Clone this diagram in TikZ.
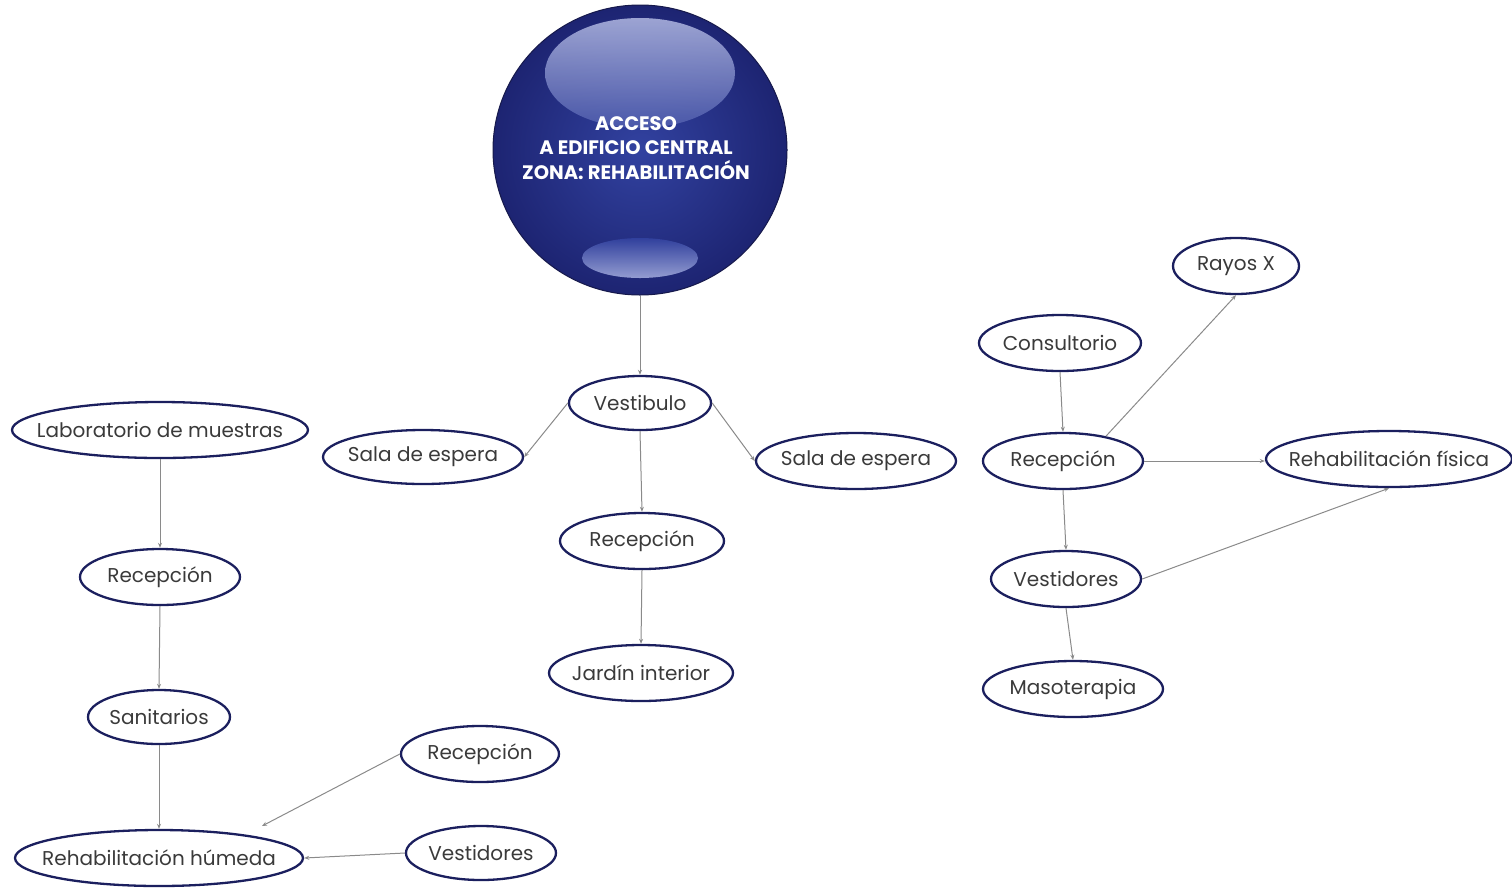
\documentclass[tikz,border=0pt]{standalone}
\usepackage{fontspec}
\setmainfont{Poppins}
\usetikzlibrary{shapes.geometric,arrows.meta}
\definecolor{navy}{HTML}{1B1F5E}
\definecolor{txt}{HTML}{3A3A3A}
\definecolor{ballout}{HTML}{1D2472}
\definecolor{ballin}{HTML}{3242A0}
\definecolor{hilite}{HTML}{BCC3EA}
\definecolor{conn}{HTML}{8A8A8A}
\tikzset{
  ell/.style={ellipse, draw=navy, line width=2.3pt, inner xsep=-60pt, inner ysep=-10pt,
    outer sep=1.2pt, text=txt, font=\fontsize{20}{24}\selectfont},
  conn/.style={draw=conn, line width=1pt, -{Stealth[length=5pt,width=4pt]}},
}
\begin{document}
\begin{tikzpicture}[x=1pt,y=-1pt]
\useasboundingbox (0,0) rectangle (1512,887);
% big ball
\shade[inner color=ballin, outer color=ballout] (640,150) ellipse [x radius=147, y radius=145];
\draw[navy!80!black, line width=1pt] (640,150) ellipse [x radius=147, y radius=145];
\shade[top color=hilite, bottom color=ballin!85!white, opacity=0.8] (640,73) ellipse [x radius=95, y radius=55];
\shade[top color=ballin, bottom color=hilite!80!ballin, opacity=0.9] (640,258) ellipse [x radius=58, y radius=20];
\node[circle, minimum size=292pt, inner sep=0pt] (ball) at (640,150) {};
\node[text=white, font=\fontsize{19.5}{24.5}\selectfont\bfseries, align=center] (balltxt) at (636,148)
  {ACCESO\\A EDIFICIO CENTRAL\\ZONA: REHABILITACIÓN};

% center column
\node[ell, minimum width=142pt, minimum height=54pt] (vest) at (640,403) {Vestibulo};
\node[ell, minimum width=200pt, minimum height=54pt] (salaL) at (423,457) {Sala de espera};
\node[ell, minimum width=200pt, minimum height=56pt] (salaR) at (856,461) {Sala de espera};
\node[ell, minimum width=164pt, minimum height=56pt] (recC) at (642,541) {Recepción};
\node[ell, minimum width=184pt, minimum height=56pt] (jard) at (641,673) {Jardín interior};

% left column
\node[ell, minimum width=296pt, minimum height=56pt] (lab) at (160,430) {Laboratorio de muestras};
\node[ell, minimum width=160pt, minimum height=56pt] (recL) at (160,577) {Recepción};
\node[ell, minimum width=142pt, minimum height=54pt] (sani) at (159,717) {Sanitarios};
\node[ell, minimum width=158pt, minimum height=56pt] (recB) at (480,754) {Recepción};
\node[ell, minimum width=150pt, minimum height=54pt] (vestB) at (481,853) {Vestidores};
\node[ell, minimum width=288pt, minimum height=56pt] (rhum) at (159,858) {Rehabilitación húmeda};
\coordinate (free) at (262,826);

% right column
\node[ell, minimum width=126pt, minimum height=56pt] (rayos) at (1236,266) {Rayos X};
\node[ell, minimum width=162pt, minimum height=56pt] (cons) at (1060,343) {Consultorio};
\node[ell, minimum width=160pt, minimum height=56pt] (recR) at (1063,461) {Recepción};
\node[ell, minimum width=246pt, minimum height=56pt] (rfis) at (1389,459) {Rehabilitación física};
\node[ell, minimum width=150pt, minimum height=56pt] (vestR) at (1066,579) {Vestidores};
\node[ell, minimum width=180pt, minimum height=56pt] (maso) at (1073,689) {Masoterapia};

% connectors
\draw[conn] (ball.south) -- (vest.north);
\draw[conn] (vest.west) -- (salaL.east);
\draw[conn] (vest.east) -- (salaR.west);
\draw[conn] (vest.south) -- (recC.north);
\draw[conn] (recC.south) -- (jard.north);

\draw[conn] (lab.south) -- (recL.north);
\draw[conn] (recL.south) -- (sani.north);
\draw[conn] (sani.south) -- (rhum.north);
\draw[conn] (recB.west) -- (free);
\draw[conn] (vestB.west) -- (rhum.east);

\draw[conn] (cons.south) -- (recR.north);
\draw[conn] (recR.30) -- (rayos.south);
\draw[conn] (recR.east) -- (rfis.west |- recR.east);
\draw[conn] (recR.south) -- (vestR.north);
\draw[conn] (vestR.south) -- (maso.north);
\draw[conn] (vestR.east) -- (rfis.south);
\end{tikzpicture}
\end{document}
